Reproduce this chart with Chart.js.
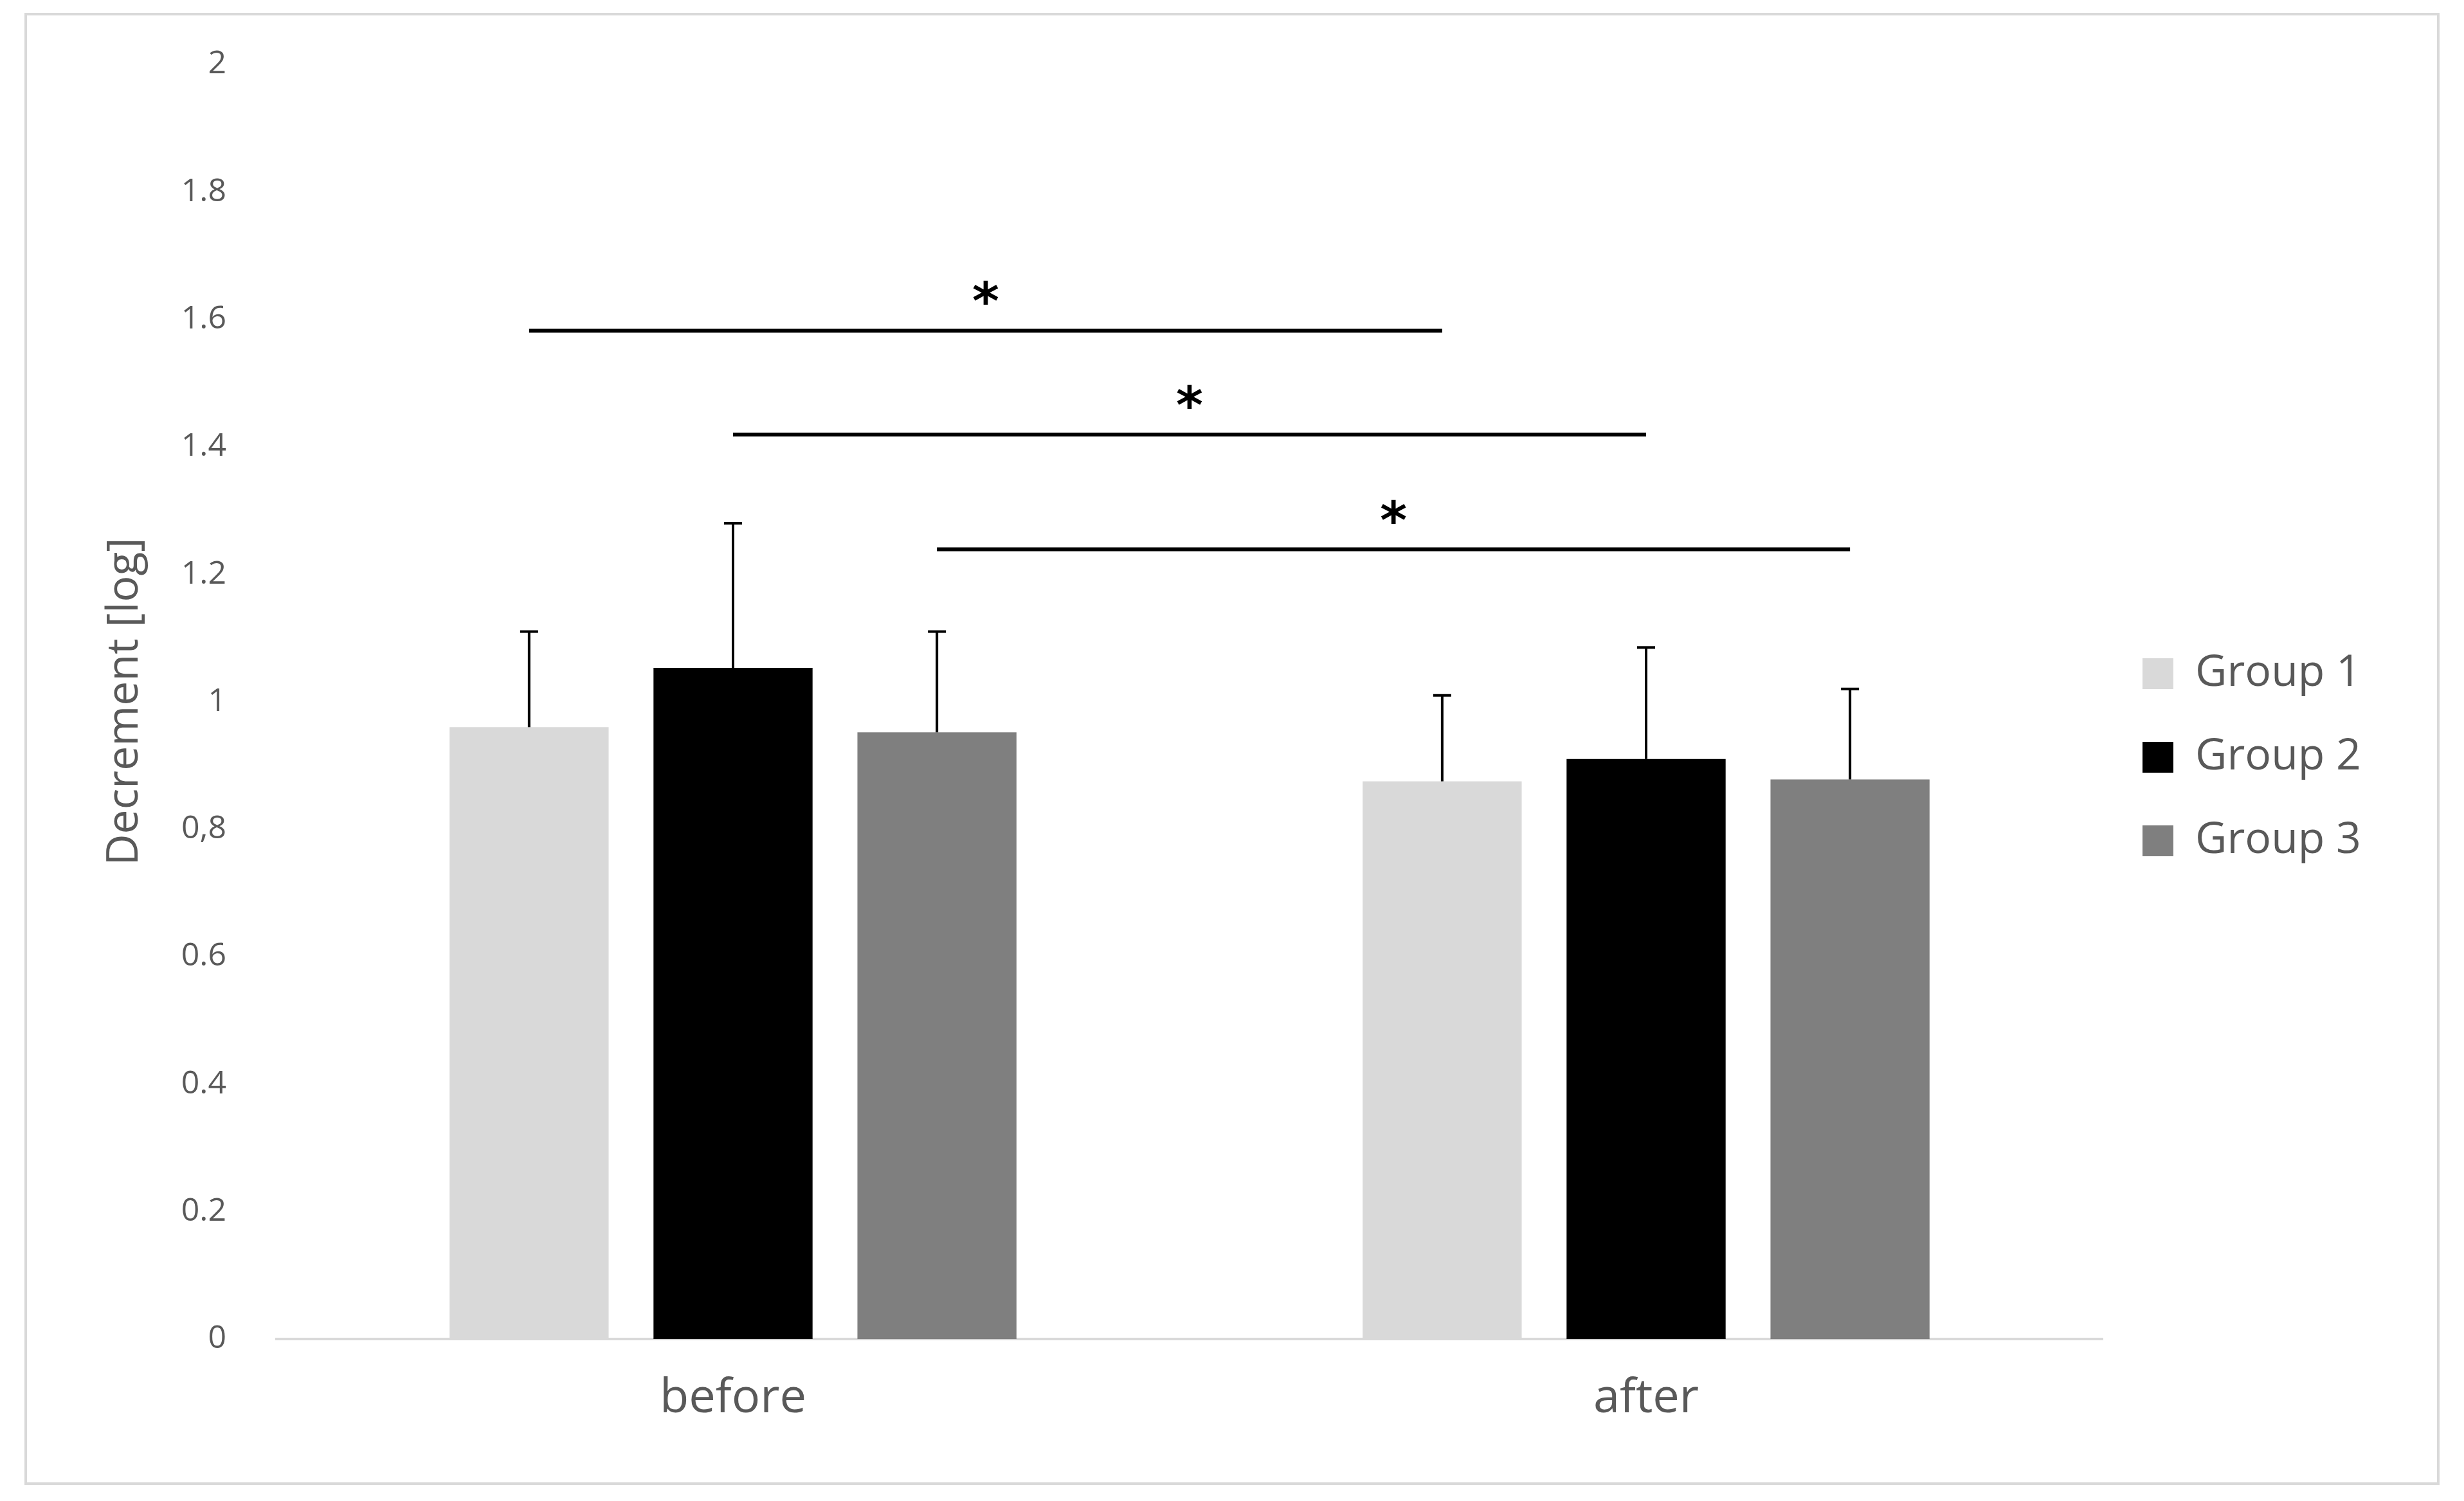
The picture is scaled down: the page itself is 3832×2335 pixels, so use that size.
<!DOCTYPE html>
<html>
<head>
<script src="https://cdn.jsdelivr.net/npm/chart.js@4"></script>
<style>
  body { margin: 0; background: #fff; }
  #wrap { position: relative; width: 3832px; height: 2335px; }
  #frame { position: absolute; left: 38px; top: 20px; width: 3756px; height: 2290px; border: 4px solid #d9d9d9; box-sizing: border-box; }
</style>
</head>
<body>
<div id="wrap">
  <div id="frame"></div>
  <canvas id="chart" width="3832" height="2335"></canvas>
</div>
<script>
'use strict';

const categories = ['before', 'after'];
const seriesNames = ['Group 1', 'Group 2', 'Group 3'];
const seriesColors = ['#d9d9d9', '#000000', '#7f7f7f'];
const group1 = [0.96, 0.875];
const group2 = [1.053, 0.91];
const group3 = [0.952, 0.878];
const group1Err = [1.11, 1.01];
const group2Err = [1.28, 1.085];
const group3Err = [1.11, 1.02];
const yTicks = [0, 0.2, 0.4, 0.6, 0.8, 1, 1.2, 1.4, 1.6, 1.8, 2];
const yTickLabels = ['0', '0.2', '0.4', '0.6', '0,8', '1', '1.2', '1.4', '1.6', '1.8', '2'];
// significance brackets: [from category, from series, to category, to series, y]
const sigBars = [
  [0, 0, 1, 0, 1.582],
  [0, 1, 1, 1, 1.419],
  [0, 2, 1, 2, 1.239],
];

const values = [group1, group2, group3];
const errTops = [group1Err, group2Err, group3Err];
const labelColor = '#595959';
const fontFamily = '"Open Sans", sans-serif';

const overlay = {
  id: 'overlay',
  afterDatasetsDraw: (chart) => {
    const { ctx } = chart;
    const y = chart.scales.y;
    ctx.save();
    ctx.strokeStyle = '#000';
    ctx.lineWidth = 4;
    // error bars (upper only)
    values.forEach((_, si) => {
      chart.getDatasetMeta(si).data.forEach((bar, ci) => {
        const top = y.getPixelForValue(errTops[si][ci]);
        ctx.beginPath();
        ctx.moveTo(bar.x, bar.y);
        ctx.lineTo(bar.x, top);
        ctx.moveTo(bar.x - 14, top);
        ctx.lineTo(bar.x + 14, top);
        ctx.stroke();
      });
    });
    // significance lines and stars
    ctx.lineWidth = 6;
    ctx.fillStyle = '#000';
    ctx.font = 'bold 80px "DejaVu Sans", sans-serif';
    ctx.textAlign = 'center';
    ctx.textBaseline = 'alphabetic';
    sigBars.forEach(([c0, s0, c1, s1, v]) => {
      const x0 = chart.getDatasetMeta(s0).data[c0].x;
      const x1 = chart.getDatasetMeta(s1).data[c1].x;
      const py = y.getPixelForValue(v);
      ctx.beginPath();
      ctx.moveTo(x0, py);
      ctx.lineTo(x1, py);
      ctx.stroke();
      ctx.fillText('*', (x0 + x1) / 2, py - 18);
    });
    ctx.restore();
  },
};

new Chart(document.getElementById('chart').getContext('2d'), {
  type: 'bar',
  data: {
    labels: categories,
    datasets: seriesNames.map((name, i) => ({
      label: name,
      data: values[i],
      backgroundColor: seriesColors[i],
      categoryPercentage: 0.67,
      barPercentage: 0.78,
    })),
  },
  options: {
    responsive: false,
    animation: false,
    layout: { padding: { left: 150, top: 96, right: 150, bottom: 75 } },
    plugins: {
      legend: {
        position: 'right',
        labels: {
          color: labelColor,
          font: { family: fontFamily, size: 68 },
          boxWidth: 48,
          boxHeight: 48,
          padding: 62,
        },
      },
      tooltip: { enabled: false },
    },
    scales: {
      y: {
        min: 0,
        max: 2,
        afterBuildTicks: (axis) => { axis.ticks = yTicks.map((v) => ({ value: v })); },
        afterFit: (axis) => { axis.width = 280; },
        ticks: {
          color: labelColor,
          font: { family: fontFamily, size: 50 },
          padding: 70,
          callback: (v) => yTickLabels[yTicks.indexOf(v)] ?? '',
        },
        grid: { display: false },
        border: { display: false },
        title: {
          display: true,
          text: 'Decrement [log]',
          color: labelColor,
          font: { family: fontFamily, size: 68 },
        },
      },
      x: {
        ticks: { color: labelColor, font: { family: fontFamily, size: 74 }, padding: 40 },
        grid: { display: false },
        border: { color: '#d9d9d9', width: 4 },
      },
    },
  },
  plugins: [overlay],
});
</script>
</body>
</html>
